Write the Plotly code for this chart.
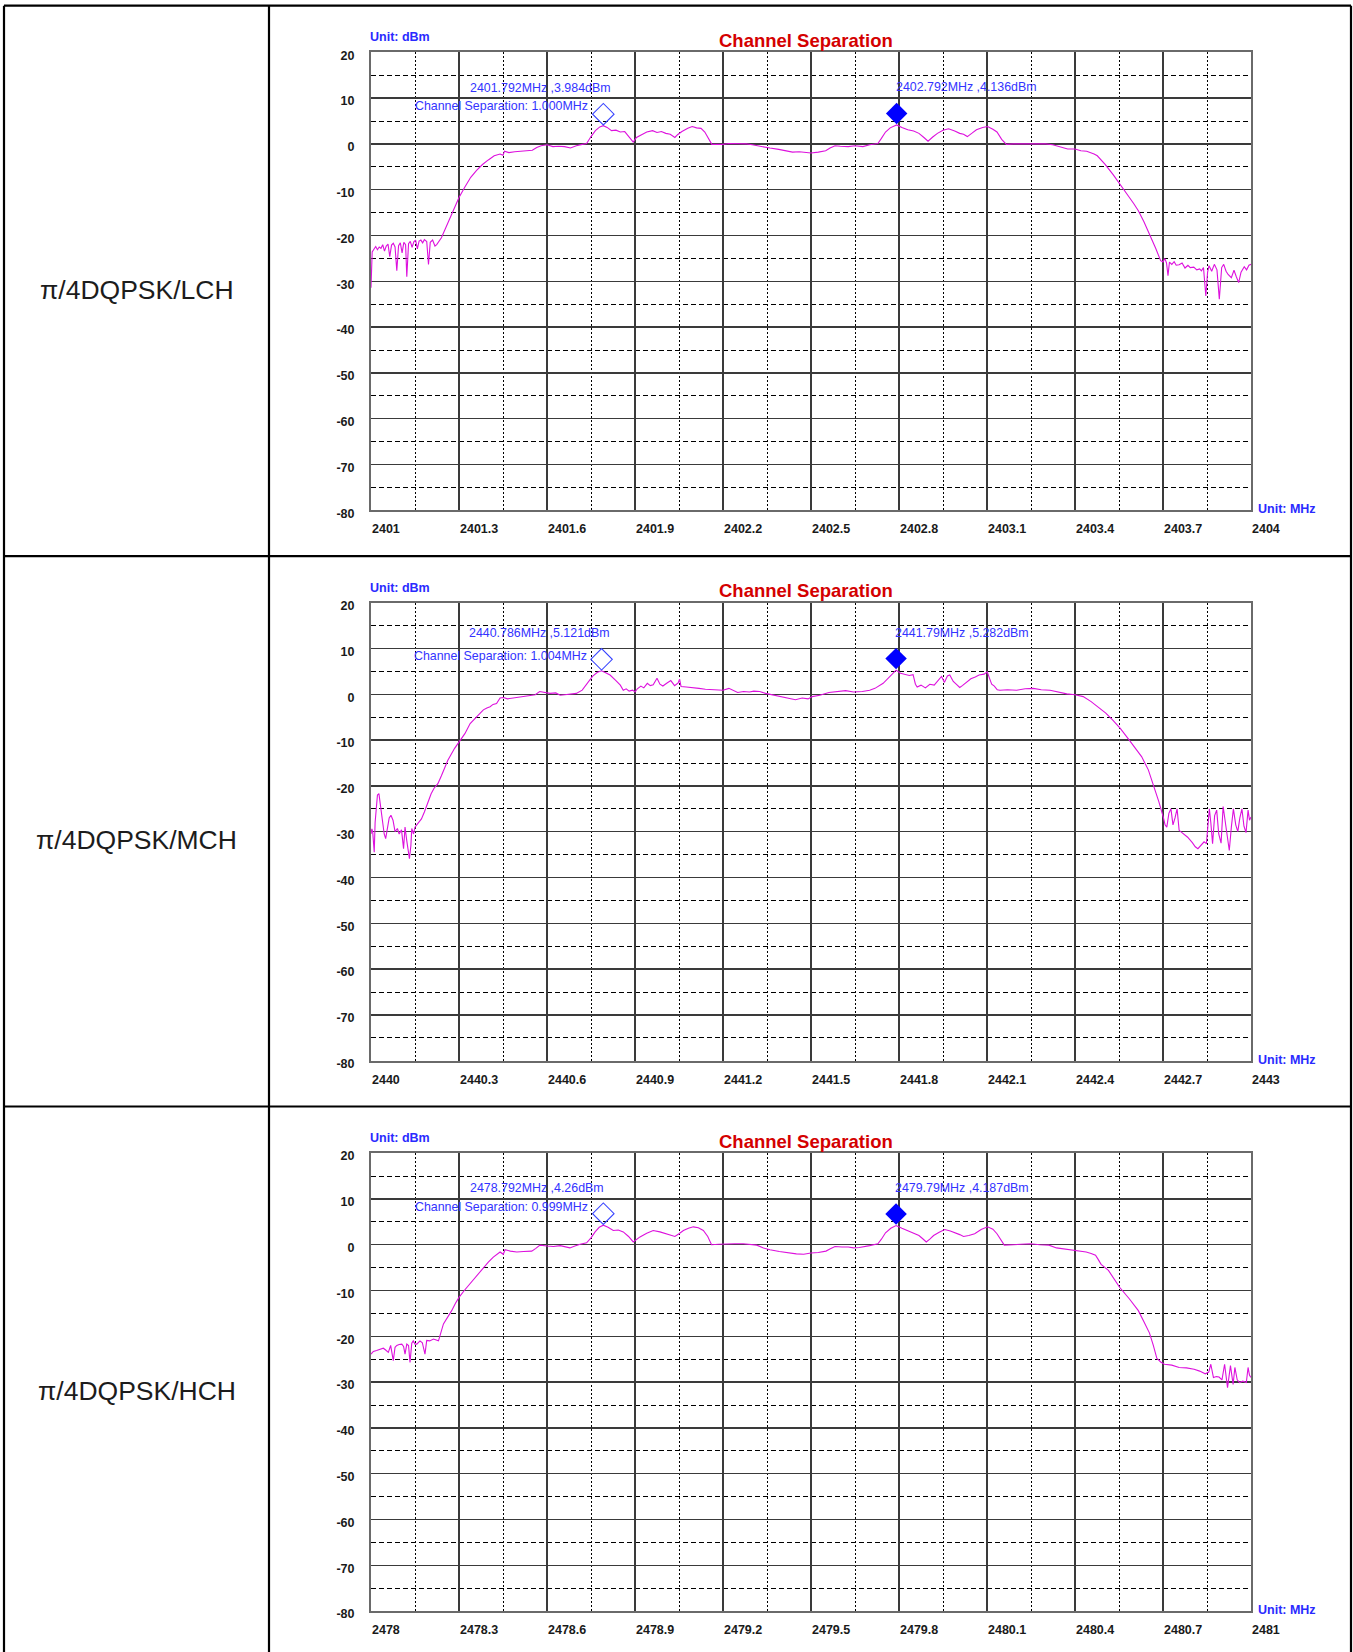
import plotly.graph_objects as go

W, H = 1353, 1652

ROW_LABELS = ["π/4DQPSK/LCH", "π/4DQPSK/MCH", "π/4DQPSK/HCH"]

# ---------------- LCH spectrum (MHz, dBm) ----------------
LCH_FREQ = [
    2401.000, 2401.004, 2401.010, 2401.016, 2401.022, 2401.028, 2401.034, 2401.040, 2401.046, 2401.052,
    2401.058, 2401.064, 2401.070, 2401.076, 2401.082, 2401.088, 2401.094, 2401.100, 2401.106, 2401.112,
    2401.118, 2401.122, 2401.128, 2401.134, 2401.140, 2401.146, 2401.152, 2401.158, 2401.164, 2401.170,
    2401.176, 2401.182, 2401.190, 2401.196, 2401.202, 2401.210, 2401.218, 2401.224, 2401.240, 2401.260,
    2401.280, 2401.300, 2401.320, 2401.340, 2401.360, 2401.380, 2401.400, 2401.420, 2401.440, 2401.450,
    2401.455, 2401.470, 2401.490, 2401.510, 2401.530, 2401.550, 2401.565, 2401.580, 2401.600, 2401.620,
    2401.640, 2401.660, 2401.680, 2401.700, 2401.720, 2401.735, 2401.750, 2401.765, 2401.780, 2401.792,
    2401.805, 2401.820, 2401.835, 2401.850, 2401.865, 2401.880, 2401.894, 2401.905, 2401.920, 2401.940,
    2401.960, 2401.975, 2401.990, 2402.005, 2402.020, 2402.036, 2402.045, 2402.060, 2402.080, 2402.095,
    2402.110, 2402.125, 2402.138, 2402.150, 2402.162, 2402.180, 2402.200, 2402.220, 2402.240, 2402.260,
    2402.280, 2402.300, 2402.315, 2402.335, 2402.360, 2402.390, 2402.410, 2402.437, 2402.460, 2402.480,
    2402.500, 2402.525, 2402.550, 2402.565, 2402.582, 2402.600, 2402.627, 2402.650, 2402.677, 2402.700,
    2402.728, 2402.740, 2402.754, 2402.770, 2402.792, 2402.810, 2402.830, 2402.850, 2402.868, 2402.885,
    2402.899, 2402.915, 2402.931, 2402.950, 2402.969, 2402.990, 2403.007, 2403.020, 2403.033, 2403.050,
    2403.064, 2403.085, 2403.102, 2403.120, 2403.134, 2403.150, 2403.166, 2403.190, 2403.223, 2403.248,
    2403.280, 2403.300, 2403.324, 2403.350, 2403.375, 2403.400, 2403.420, 2403.440, 2403.451, 2403.465,
    2403.476, 2403.490, 2403.502, 2403.530, 2403.552, 2403.580, 2403.600, 2403.616, 2403.635, 2403.654,
    2403.675, 2403.692, 2403.700, 2403.706, 2403.712, 2403.717, 2403.722, 2403.730, 2403.738, 2403.745,
    2403.755, 2403.765, 2403.775, 2403.785, 2403.793, 2403.805, 2403.815, 2403.825, 2403.831, 2403.838,
    2403.846, 2403.852, 2403.857, 2403.866, 2403.875, 2403.884, 2403.892, 2403.900, 2403.907, 2403.915,
    2403.922, 2403.933, 2403.942, 2403.950, 2403.958, 2403.966, 2403.977, 2403.985, 2403.993, 2404.000,
]
LCH_LEVEL = [
    -31.4, -23.6, -23.0, -22.4, -23.1, -22.5, -22.8, -22.0, -23.4, -22.3,
    -21.9, -24.6, -22.1, -21.7, -22.5, -27.7, -22.2, -21.6, -23.8, -21.5,
    -22.0, -29.0, -21.8, -21.3, -22.6, -21.4, -21.0, -22.9, -21.2, -21.0,
    -21.6, -20.9, -21.3, -26.3, -21.5, -21.0, -22.3, -22.0, -20.5, -17.5,
    -14.6, -11.7, -9.4, -7.3, -5.8, -4.5, -3.5, -2.6, -2.2, -2.5,
    -1.6, -1.9, -1.7, -1.6, -1.5, -1.4, -0.8, -0.4, -0.2, -0.6,
    -0.5, -0.6, -0.9, -0.4, -0.1, 0.1, 1.6, 2.9, 3.7, 3.984,
    3.6, 2.9, 3.0, 2.6, 2.7, 1.6, 0.4, 1.4, 1.9, 2.6,
    2.9, 2.5, 2.7, 2.3, 2.1, 1.4, 2.0, 2.7, 3.4, 3.8,
    3.5, 3.4, 2.6, 1.2, -0.1, -0.1, -0.1, 0.1, 0.1, 0.0,
    0.0, -0.2, -0.4, -0.7, -0.9, -1.2, -1.4, -1.8, -1.7, -1.9,
    -2.0, -1.8, -1.5, -0.9, -0.4, -0.5, -0.6, -0.4, -0.6, -0.2,
    0.1, 1.2, 2.6, 3.5, 4.136, 3.6, 3.1, 2.8, 2.3, 1.4,
    0.6, 1.5, 2.3, 3.0, 3.3, 2.8, 2.3, 2.1, 1.6, 2.4,
    3.1, 3.6, 3.8, 3.2, 2.6, 1.0, -0.1, 0.0, 0.0, 0.1,
    0.0, 0.0, -0.2, -0.7, -1.1, -1.1, -1.5, -1.6, -1.8, -2.2,
    -2.6, -3.6, -4.4, -6.7, -8.8, -11.2, -13.0, -14.6, -17.0, -19.7,
    -22.8, -25.5, -25.8, -25.0, -26.0, -28.8, -25.8, -26.3, -25.7, -26.5,
    -26.4, -26.0, -27.1, -26.5, -27.0, -26.9, -27.5, -27.3, -27.7, -27.0,
    -33.2, -28.0, -26.6, -27.8, -26.3, -27.5, -33.9, -27.0, -26.3, -27.8,
    -28.5, -29.2, -27.6, -29.0, -30.3, -28.0, -26.8, -27.5, -26.5, -26.3,
]

# ---------------- MCH spectrum (MHz, dBm) ----------------
MCH_FREQ = [
    2440.000, 2440.003, 2440.006, 2440.011, 2440.014, 2440.017, 2440.022, 2440.027, 2440.031, 2440.036,
    2440.041, 2440.045, 2440.050, 2440.056, 2440.062, 2440.068, 2440.075, 2440.082, 2440.090, 2440.096,
    2440.104, 2440.111, 2440.116, 2440.122, 2440.131, 2440.136, 2440.139, 2440.145, 2440.150, 2440.160,
    2440.172, 2440.182, 2440.195, 2440.205, 2440.215, 2440.228, 2440.240, 2440.262, 2440.285, 2440.300,
    2440.320, 2440.338, 2440.360, 2440.383, 2440.395, 2440.406, 2440.416, 2440.428, 2440.440, 2440.452,
    2440.465, 2440.485, 2440.505, 2440.520, 2440.540, 2440.560, 2440.575, 2440.592, 2440.610, 2440.630,
    2440.645, 2440.660, 2440.680, 2440.700, 2440.720, 2440.738, 2440.755, 2440.772, 2440.786, 2440.800,
    2440.815, 2440.835, 2440.850, 2440.860, 2440.870, 2440.880, 2440.892, 2440.900, 2440.908, 2440.920,
    2440.930, 2440.942, 2440.952, 2440.962, 2440.975, 2440.985, 2440.995, 2441.008, 2441.022, 2441.035,
    2441.047, 2441.052, 2441.057, 2441.075, 2441.095, 2441.118, 2441.140, 2441.165, 2441.185, 2441.200,
    2441.220, 2441.235, 2441.250, 2441.270, 2441.290, 2441.305, 2441.325, 2441.345, 2441.360, 2441.380,
    2441.405, 2441.425, 2441.447, 2441.470, 2441.490, 2441.504, 2441.530, 2441.561, 2441.590, 2441.618,
    2441.645, 2441.675, 2441.700, 2441.718, 2441.746, 2441.770, 2441.790, 2441.805, 2441.820, 2441.835,
    2441.848, 2441.856, 2441.862, 2441.875, 2441.890, 2441.905, 2441.920, 2441.935, 2441.945, 2441.955,
    2441.965, 2441.973, 2441.985, 2441.995, 2442.007, 2442.016, 2442.030, 2442.045, 2442.060, 2442.073,
    2442.090, 2442.101, 2442.108, 2442.116, 2442.125, 2442.135, 2442.144, 2442.170, 2442.201, 2442.230,
    2442.258, 2442.285, 2442.315, 2442.345, 2442.372, 2442.400, 2442.428, 2442.455, 2442.485, 2442.505,
    2442.528, 2442.555, 2442.585, 2442.607, 2442.627, 2442.650, 2442.670, 2442.686, 2442.701, 2442.707,
    2442.713, 2442.720, 2442.727, 2442.734, 2442.741, 2442.748, 2442.755, 2442.770, 2442.784, 2442.800,
    2442.810, 2442.819, 2442.830, 2442.840, 2442.848, 2442.853, 2442.858, 2442.863, 2442.869, 2442.876,
    2442.883, 2442.890, 2442.898, 2442.905, 2442.912, 2442.919, 2442.926, 2442.933, 2442.940, 2442.948,
    2442.955, 2442.962, 2442.969, 2442.976, 2442.983, 2442.990, 2442.995, 2443.000,
]
MCH_LEVEL = [
    -30.5, -29.4, -30.2, -34.5, -28.0, -25.0, -22.0, -21.7, -23.5, -26.8,
    -28.2, -30.5, -31.5, -29.0, -27.0, -26.4, -27.5, -30.0, -29.3, -30.5,
    -29.6, -33.7, -29.0, -32.0, -35.9, -33.0, -29.3, -30.5, -29.0, -28.2,
    -27.2, -25.7, -23.5, -21.7, -20.5, -19.5, -17.8, -14.4, -11.8, -10.4,
    -8.6, -6.4, -4.9, -3.4, -3.0, -2.7, -2.2, -2.0, -0.8, -0.7,
    -1.0, -0.8, -0.6, -0.4, -0.3, -0.1, 0.6, 0.4, 0.2, 0.3,
    -0.2, -0.1, 0.1, 0.2, 0.9, 2.4, 3.9, 4.8, 5.121, 4.7,
    4.2, 3.0, 2.0, 0.9, 1.2, 0.7, 0.9, 0.5, 1.2, 1.8,
    1.4, 2.4, 1.9, 2.1, 3.5, 2.2, 1.8, 2.4, 3.0, 1.9,
    2.5, 3.3, 1.7, 1.6, 1.5, 1.3, 1.1, 1.0, 0.9, 0.9,
    1.3, 0.8, 0.4, 0.6, 0.5, 0.7, 0.6, 0.2, 0.0, -0.2,
    -0.5, -0.9, -1.2, -0.8, -1.0, -0.5, -0.2, 0.4, 0.6, 0.8,
    0.5, 0.6, 0.9, 1.3, 2.4, 3.9, 5.282, 4.6, 4.3, 4.1,
    4.3, 2.2, 1.6, 2.0, 1.4, 2.2, 2.0, 3.1, 3.9, 2.6,
    4.0, 4.2, 2.8, 2.2, 1.5, 1.9, 2.6, 3.4, 3.8, 4.2,
    4.4, 4.9, 3.6, 2.2, 1.8, 1.0, 0.9, 1.0, 0.9, 1.2,
    1.3, 1.0, 0.9, 0.5, 0.1, -0.1, -0.5, -1.6, -3.1, -4.1,
    -5.6, -7.5, -10.0, -11.8, -13.6, -16.5, -20.2, -23.5, -26.8, -28.5,
    -29.0, -26.0, -25.0, -28.5, -27.0, -25.0, -29.7, -30.5, -31.2, -32.4,
    -33.3, -33.7, -33.0, -32.2, -32.6, -29.0, -25.0, -28.0, -32.6, -26.5,
    -25.3, -30.5, -32.5, -24.5, -28.0, -31.0, -34.1, -29.0, -25.0, -28.5,
    -30.0, -27.0, -25.0, -28.8, -30.2, -25.3, -27.5, -26.8,
]

# ---------------- HCH spectrum (MHz, dBm) ----------------
HCH_FREQ = [
    2478.000, 2478.008, 2478.019, 2478.030, 2478.042, 2478.050, 2478.059, 2478.067, 2478.076, 2478.082,
    2478.088, 2478.096, 2478.105, 2478.111, 2478.116, 2478.122, 2478.128, 2478.133, 2478.139, 2478.144,
    2478.150, 2478.156, 2478.162, 2478.167, 2478.175, 2478.184, 2478.190, 2478.200, 2478.213, 2478.222,
    2478.230, 2478.247, 2478.262, 2478.275, 2478.288, 2478.300, 2478.318, 2478.338, 2478.360, 2478.383,
    2478.400, 2478.417, 2478.430, 2478.440, 2478.451, 2478.457, 2478.475, 2478.497, 2478.520, 2478.548,
    2478.562, 2478.576, 2478.600, 2478.622, 2478.645, 2478.662, 2478.678, 2478.695, 2478.713, 2478.735,
    2478.750, 2478.764, 2478.778, 2478.792, 2478.808, 2478.826, 2478.843, 2478.860, 2478.878, 2478.894,
    2478.905, 2478.917, 2478.940, 2478.962, 2478.985, 2479.008, 2479.022, 2479.036, 2479.050, 2479.065,
    2479.082, 2479.099, 2479.116, 2479.133, 2479.148, 2479.161, 2479.185, 2479.213, 2479.240, 2479.269,
    2479.292, 2479.315, 2479.338, 2479.360, 2479.392, 2479.424, 2479.450, 2479.475, 2479.500, 2479.525,
    2479.551, 2479.566, 2479.582, 2479.605, 2479.627, 2479.645, 2479.665, 2479.700, 2479.728, 2479.740,
    2479.754, 2479.772, 2479.790, 2479.810, 2479.830, 2479.850, 2479.868, 2479.881, 2479.893, 2479.905,
    2479.918, 2479.937, 2479.956, 2479.975, 2479.994, 2480.007, 2480.020, 2480.038, 2480.058, 2480.080,
    2480.102, 2480.120, 2480.134, 2480.147, 2480.159, 2480.190, 2480.223, 2480.248, 2480.280, 2480.311,
    2480.337, 2480.362, 2480.388, 2480.413, 2480.438, 2480.455, 2480.470, 2480.479, 2480.489, 2480.514,
    2480.533, 2480.552, 2480.585, 2480.616, 2480.635, 2480.654, 2480.667, 2480.679, 2480.692, 2480.705,
    2480.730, 2480.755, 2480.780, 2480.806, 2480.825, 2480.844, 2480.856, 2480.863, 2480.872, 2480.882,
    2480.891, 2480.901, 2480.910, 2480.920, 2480.930, 2480.939, 2480.945, 2480.953, 2480.961, 2480.972,
    2480.984, 2480.990, 2480.995, 2481.000,
]
HCH_LEVEL = [
    -23.9, -23.3, -23.1, -22.8, -22.6, -23.0, -23.5, -22.0, -25.3, -22.4,
    -22.0, -21.8, -21.7, -22.2, -23.9, -21.7, -22.0, -25.7, -21.5, -21.0,
    -21.7, -21.7, -21.2, -21.0, -21.4, -23.9, -20.9, -21.0, -20.6, -20.9,
    -21.0, -17.3, -15.8, -14.4, -12.8, -11.5, -10.0, -8.5, -6.6, -4.9,
    -3.8, -2.7, -2.0, -1.6, -2.1, -1.1, -1.4, -1.6, -1.5, -1.4,
    -0.8, -0.1, -0.3, -0.4, -0.2, -0.5, -0.7, -0.3, 0.1, 0.4,
    1.5, 2.8, 3.8, 4.26, 3.8, 3.1, 3.2, 2.8, 1.8, 0.6,
    1.2, 1.7, 2.5, 3.1, 2.8, 2.3, 2.1, 1.8, 2.4, 3.1,
    3.6, 3.9, 3.7, 3.1, 1.8, 0.0, 0.1, 0.2, 0.2, 0.2,
    0.0, -0.1, -0.7, -1.1, -1.5, -1.8, -2.0, -2.1, -1.8, -1.7,
    -1.4, -0.9, -0.4, -0.5, -0.5, -0.7, -0.6, -0.2, 0.2, 1.2,
    2.6, 3.6, 4.187, 3.6, 3.1, 2.6, 2.0, 1.3, 0.6, 1.2,
    2.0, 2.7, 3.3, 3.0, 2.6, 2.2, 1.8, 2.0, 2.4, 3.3,
    3.9, 3.4, 2.4, 1.0, -0.1, 0.0, 0.1, 0.2, 0.0, -0.1,
    -0.7, -0.9, -1.2, -1.4, -1.6, -1.9, -2.3, -3.2, -4.3, -5.6,
    -7.4, -9.3, -11.8, -14.4, -16.8, -19.3, -22.0, -24.8, -25.6, -26.1,
    -26.3, -26.8, -26.9, -27.2, -27.6, -28.2, -27.8, -26.1, -29.0, -28.8,
    -28.9, -29.5, -26.1, -31.2, -26.4, -30.5, -26.8, -29.5, -30.1, -29.8,
    -30.1, -26.8, -28.5, -29.0,
]

# Marker readouts (frequency MHz, level dBm) and measured separation
LCH_PEAK_FREQ = [2401.792, 2402.792]
LCH_PEAK_LEVEL = [3.984, 4.136]
MCH_PEAK_FREQ = [2440.786, 2441.79]
MCH_PEAK_LEVEL = [5.121, 5.282]
HCH_PEAK_FREQ = [2478.792, 2479.79]
HCH_PEAK_LEVEL = [4.26, 4.187]
CHANNEL_SEPARATION_MHZ = [1.000, 1.004, 0.999]

# Axis ticks
LCH_XTICKS = [2401, 2401.3, 2401.6, 2401.9, 2402.2, 2402.5, 2402.8, 2403.1, 2403.4, 2403.7, 2404]
LCH_XLABELS = ["2401", "2401.3", "2401.6", "2401.9", "2402.2", "2402.5", "2402.8", "2403.1", "2403.4", "2403.7", "2404"]
MCH_XTICKS = [2440, 2440.3, 2440.6, 2440.9, 2441.2, 2441.5, 2441.8, 2442.1, 2442.4, 2442.7, 2443]
MCH_XLABELS = ["2440", "2440.3", "2440.6", "2440.9", "2441.2", "2441.5", "2441.8", "2442.1", "2442.4", "2442.7", "2443"]
HCH_XTICKS = [2478, 2478.3, 2478.6, 2478.9, 2479.2, 2479.5, 2479.8, 2480.1, 2480.4, 2480.7, 2481]
HCH_XLABELS = ["2478", "2478.3", "2478.6", "2478.9", "2479.2", "2479.5", "2479.8", "2480.1", "2480.4", "2480.7", "2481"]
Y_TICKS = [20, 10, 0, -10, -20, -30, -40, -50, -60, -70, -80]
Y_LABELS = ["20", "10", "0", "-10", "-20", "-30", "-40", "-50", "-60", "-70", "-80"]
Y_MINOR = [15, 5, -5, -15, -25, -35, -45, -55, -65, -75]

PANELS = [
    (LCH_FREQ, LCH_LEVEL, LCH_PEAK_FREQ, LCH_PEAK_LEVEL, LCH_XTICKS, LCH_XLABELS),
    (MCH_FREQ, MCH_LEVEL, MCH_PEAK_FREQ, MCH_PEAK_LEVEL, MCH_XTICKS, MCH_XLABELS),
    (HCH_FREQ, HCH_LEVEL, HCH_PEAK_FREQ, HCH_PEAK_LEVEL, HCH_XTICKS, HCH_XLABELS),
]

# ---------------- page geometry (pixels) ----------------
FONT = "Liberation Sans, Arial, Helvetica, sans-serif"
TRACE_COLOR = "#dd11dd"
TEXT_BLUE = "#3333ff"
UNIT_BLUE = "#2a2aff"
TITLE_RED = "#d40000"

ROW_TOP0, ROW_STEP = 5.7, 550.4
TABLE_LEFT, TABLE_RIGHT, COL_SPLIT = 4.0, 1351.0, 269.0
PLOT_LEFT, PLOT_RIGHT = 371.0, 1251.0
PLOT_TOP0, PLOT_H = 52.3, 458.0


def fx(p):
    return p / W


def fy(p):
    return 1.0 - p / H


fig = go.Figure()
layout_axes = {}
annotations = []
shapes = []

for i, (freq, level, pk_f, pk_l, xt, xl) in enumerate(PANELS):
    n = "" if i == 0 else str(i + 1)
    xa, ya = "x" + n, "y" + n
    top = PLOT_TOP0 + ROW_STEP * i
    mids = [(a + b) / 2 for a, b in zip(xt, xt[1:])]

    fig.add_trace(go.Scatter(
        x=freq, y=level, mode="lines", xaxis=xa, yaxis=ya,
        line=dict(color=TRACE_COLOR, width=1.1), hoverinfo="skip", showlegend=False,
    ))
    # marker 1 (open) and marker 2 (filled), sitting on top of their readout points
    fig.add_trace(go.Scatter(
        x=[pk_f[0]], y=[pk_l[0]], mode="markers", xaxis=xa, yaxis=ya, showlegend=False,
        marker=dict(symbol="diamond-open", size=16.5, color="#3a46ff",
                    line=dict(width=1.1, color="#3a46ff"), angle=180, standoff=11.5),
    ))
    fig.add_trace(go.Scatter(
        x=[pk_f[1]], y=[pk_l[1]], mode="markers", xaxis=xa, yaxis=ya, showlegend=False,
        marker=dict(symbol="diamond", size=16.5, color="#0000ff",
                    line=dict(width=0), angle=180, standoff=11.5),
    ))

    layout_axes["xaxis" + n] = dict(
        domain=[fx(PLOT_LEFT), fx(PLOT_RIGHT)], anchor=ya, range=[xt[0], xt[-1]],
        automargin=False,
        showline=True, mirror=True, linecolor="#6a6a6a", linewidth=2,
        showgrid=True, gridcolor="#3a3a3a", gridwidth=1.4, zeroline=False,
        tickmode="array", tickvals=xt, ticktext=xl, ticks="",
        ticklabelposition="outside right", ticklabelstandoff=6,
        tickfont=dict(family=FONT, size=12.5, color="#1a1a1a", weight="bold"),
        minor=dict(tickmode="array", tickvals=mids, showgrid=True, griddash="2px,2px",
                   gridcolor="#000000", gridwidth=1, ticks=""),
        fixedrange=True,
    )
    layout_axes["yaxis" + n] = dict(
        domain=[fy(top + PLOT_H), fy(top)], anchor=xa, range=[-80, 20],
        automargin=False,
        showline=True, mirror=True, linecolor="#6a6a6a", linewidth=2,
        showgrid=True, gridcolor="#3a3a3a", gridwidth=1.4, zeroline=False,
        tickmode="array", tickvals=Y_TICKS, ticktext=Y_LABELS, ticks="",
        ticklabelstandoff=12, ticklabelshift=3,
        tickfont=dict(family=FONT, size=12.5, color="#1a1a1a", weight="bold"),
        minor=dict(tickmode="array", tickvals=Y_MINOR, showgrid=True, griddash="5px,3px",
                   gridcolor="#000000", gridwidth=1, ticks=""),
        fixedrange=True,
    )

    xd, yd = xa + " domain", ya + " domain"
    annotations += [
        dict(text="<b>Unit: dBm</b>", xref=xd, yref=yd, x=0, y=1, xanchor="left", yanchor="middle",
             xshift=-3, yshift=15, showarrow=False, font=dict(family=FONT, size=12.5, color=UNIT_BLUE)),
        dict(text="<b>Channel Separation</b>", xref=xd, yref=yd, x=0.5, y=1, xanchor="center",
             yanchor="middle", xshift=-5, yshift=12, showarrow=False,
             font=dict(family=FONT, size=18.5, color=TITLE_RED)),
        dict(text="<b>Unit: MHz</b>", xref=xd, yref=yd, x=1, y=0, xanchor="left", yanchor="middle",
             xshift=5, yshift=1, showarrow=False, font=dict(family=FONT, size=12.5, color=UNIT_BLUE)),
        dict(text=f"{pk_f[0]}MHz ,{pk_l[0]}dBm", xref=xa, yref=ya, x=pk_f[0], y=pk_l[0],
             xanchor="left", yanchor="middle", xshift=-135, yshift=37.5, showarrow=False,
             font=dict(family=FONT, size=12.4, color=TEXT_BLUE)),
        dict(text=f"{pk_f[1]}MHz ,{pk_l[1]}dBm", xref=xa, yref=ya, x=pk_f[1], y=pk_l[1],
             xanchor="left", yanchor="middle", xshift=-3, yshift=37.5, showarrow=False,
             font=dict(family=FONT, size=12.4, color=TEXT_BLUE)),
        dict(text=f"Channel Separation: {CHANNEL_SEPARATION_MHZ[i]:.3f}MHz", xref=xa, yref=yd,
             x=pk_f[0], y=1, xanchor="left", yanchor="middle", xshift=-190, yshift=-53.7,
             showarrow=False, font=dict(family=FONT, size=12.4, color=TEXT_BLUE)),
        dict(text=ROW_LABELS[i], xref="paper", yref="paper",
             x=fx((TABLE_LEFT + COL_SPLIT) / 2), y=fy(ROW_TOP0 + ROW_STEP * i + 284),
             xanchor="center", yanchor="middle", showarrow=False,
             font=dict(family=FONT, size=26.5, color="#1c1c1c")),
    ]

# table frame
line = dict(color="#000000", width=2.2)
shapes.append(dict(type="line", xref="paper", yref="paper", x0=fx(TABLE_LEFT), x1=fx(TABLE_LEFT),
                   y0=fy(ROW_TOP0), y1=-0.01, line=line))
shapes.append(dict(type="line", xref="paper", yref="paper", x0=fx(TABLE_RIGHT), x1=fx(TABLE_RIGHT),
                   y0=fy(ROW_TOP0), y1=-0.01, line=line))
shapes.append(dict(type="line", xref="paper", yref="paper", x0=fx(COL_SPLIT), x1=fx(COL_SPLIT),
                   y0=fy(ROW_TOP0), y1=-0.01, line=line))
for r in range(3):
    yy = fy(ROW_TOP0 + ROW_STEP * r)
    shapes.append(dict(type="line", xref="paper", yref="paper", x0=fx(TABLE_LEFT), x1=fx(TABLE_RIGHT),
                       y0=yy, y1=yy, line=line))

fig.update_layout(
    width=W, height=H, autosize=False,
    margin=dict(l=0, r=0, t=0, b=0, pad=0, autoexpand=False),
    paper_bgcolor="#ffffff", plot_bgcolor="#ffffff",
    showlegend=False, annotations=annotations, shapes=shapes,
    **layout_axes,
)

# fixed-size page: no body margin, no responsive resizing
fig.write_html(
    "out.html",
    config={"displayModeBar": False, "staticPlot": True, "responsive": False},
    post_script="document.body.style.margin='0';document.body.style.overflow='hidden';",
)
